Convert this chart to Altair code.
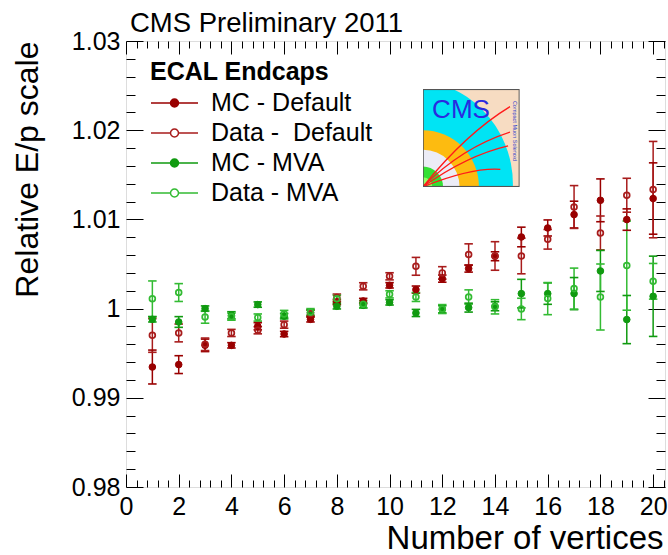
import urllib.parse
import altair as alt
import pandas as pd

FONT = "Liberation Sans"

# ---------------- data ----------------
nvtx = list(range(1, 21))

mc_default = [0.99345, 0.99372, 0.99588, 0.99588, 0.99802, 0.99715, 0.99880, 1.00074, 1.00085, 1.00261,
              1.00213, 1.00336, 1.00449, 1.00587, 1.00803, 1.00904, 1.01054, 1.01214, 1.00998, 1.01234]
mc_default_err = [0.0019, 0.0010, 0.0007, 0.0003, 0.0004, 0.0003, 0.0003, 0.0003, 0.0003, 0.0003,
                  0.0004, 0.0004, 0.0004, 0.0005, 0.0011, 0.0009, 0.0015, 0.0024, 0.0012, 0.0040]

data_default = [0.99700, 0.99727, 0.99600, 0.99727, 0.99757, 0.99820, 0.99944, 1.00123, 1.00250, 1.00362,
                1.00474, 1.00400, 1.00606, 1.00590, 1.00590, 1.00777, 1.01139, 1.00848, 1.01271, 1.01334]
data_default_err = [0.0019, 0.0010, 0.0007, 0.0004, 0.0004, 0.0004, 0.0004, 0.0004, 0.0004, 0.0004,
                    0.0010, 0.0007, 0.0012, 0.0016, 0.0020, 0.0011, 0.0024, 0.0019, 0.0019, 0.0054]

mc_mva = [0.99880, 0.99850, 1.00000, 0.99925, 1.00045, 0.99915, 0.99955, 1.00026, 1.00037, 1.00070,
          0.99951, 0.99992, 1.00011, 1.00026, 1.00168, 1.00168, 1.00168, 1.00422, 0.99877, 1.00138]
mc_mva_err = [0.0003, 0.0006, 0.0003, 0.0004, 0.0003, 0.0003, 0.0003, 0.0003, 0.0003, 0.0003,
              0.0004, 0.0004, 0.0005, 0.0005, 0.0016, 0.0012, 0.0018, 0.0023, 0.0027, 0.0045]

data_mva = [1.00110, 1.00180, 0.99906, 0.99910, 0.99900, 0.99940, 0.99960, 1.00110, 1.00050, 1.00160,
            1.00130, 0.99995, 1.00130, 1.00020, 0.99996, 1.00112, 1.00224, 1.00130, 1.00482, 1.00306]
data_mva_err = [0.0020, 0.0010, 0.0007, 0.0004, 0.0004, 0.0004, 0.0004, 0.0004, 0.0004, 0.0004,
                0.0005, 0.0005, 0.0008, 0.0008, 0.0012, 0.0018, 0.0023, 0.0037, 0.0050, 0.0020]

series_names = ["MC - Default", "Data - \u00a0Default", "MC - MVA", "Data - MVA"]
series_kind = ["MC", "Data", "MC", "Data"]
stroke_colors = ["#990000", "#a81c1c", "#109a10", "#33bb33"]
fill_colors = ["#990000", "transparent", "#109a10", "transparent"]

x_major = list(range(0, 21, 2))
x_minor = [round(i * 0.4, 1) for i in range(1, 52) if i % 5 != 0]
y_major = [0.98, 0.99, 1.00, 1.01, 1.02, 1.03]
y_minor = [round(0.98 + i * 0.002, 3) for i in range(1, 25) if i % 5 != 0]

header_text = ["CMS Preliminary 2011"]

rows = []
for name, kind, vals, errs in zip(series_names, series_kind,
                                  [mc_default, data_default, mc_mva, data_mva],
                                  [mc_default_err, data_default_err, mc_mva_err, data_mva_err]):
    for n, v, e in zip(nvtx, vals, errs):
        rows.append({"nvtx": n, "val": v, "lo": v - e, "hi": v + e, "series": name, "kind": kind})
df = pd.DataFrame(rows)

# ---------------- scales / axes / legend ----------------
x_scale = alt.Scale(domain=[0, 20.45], nice=False, zero=False)
y_scale = alt.Scale(domain=[0.98, 1.03], nice=False, zero=False)
stroke_scale = alt.Scale(domain=series_names, range=stroke_colors)
fill_scale = alt.Scale(domain=series_names, range=fill_colors)

LEG_PATH = ("M-1,0L-0.17,0M0.17,0L1,0M-0.17,0A0.17,0.17,0,1,1,0.17,0"
            "A0.17,0.17,0,1,1,-0.17,0Z")
legend = alt.Legend(
    title="ECAL Endcaps", orient="none", legendX=24, legendY=19,
    titleFont=FONT, titleFontSize=25, titleFontWeight="bold", titleColor="black",
    titlePadding=6, labelFont=FONT, labelFontSize=25, labelColor="black",
    labelLimit=400, labelOffset=12, symbolType=LEG_PATH, symbolSize=2209,
    symbolStrokeWidth=1.5, clipHeight=24, rowPadding=5, padding=0, symbolOffset=0,
)


def tick_axis(orient, values, size):
    return alt.Axis(orient=orient, values=values, tickSize=size, offset=-size,
                    labels=False, domain=False, grid=False, title=None, ticks=True,
                    tickColor="black", tickWidth=1)


x_main = alt.Axis(orient="bottom", values=x_major, ticks=False, domain=False, grid=False,
                  labelFont=FONT, labelFontSize=25, labelColor="black", labelPadding=7,
                  labelFlush=False, labelOverlap=False,
                  title="Number of vertices", titleFont=FONT, titleFontSize=33,
                  titleFontWeight="normal", titleColor="black", titleAnchor="end",
                  titleAlign="right", titleBaseline="alphabetic", titleX=537, titleY=61)
y_main = alt.Axis(orient="left", values=y_major, ticks=False, domain=False, grid=False,
                  labelFont=FONT, labelFontSize=25, labelColor="black", labelPadding=6,
                  labelFlush=False, labelOverlap=False,
                  labelExpr="abs(datum.value - 1) < 1e-9 ? '1' : format(datum.value, '.2f')",
                  title="Relative E/p scale", titleFont=FONT, titleFontSize=32,
                  titleFontWeight="normal", titleColor="black", titleAngle=270,
                  titleAlign="right", titleBaseline="alphabetic", titleX=-89, titleY=0)

base = alt.Chart(df)
stroke_enc = alt.Stroke("series:N", scale=stroke_scale, legend=legend)
fill_enc = alt.Fill("series:N", scale=fill_scale, legend=legend)

rules = base.mark_rule(strokeWidth=1.5).encode(
    x=alt.X("nvtx:Q", scale=x_scale, axis=x_main),
    y=alt.Y("lo:Q", scale=y_scale, axis=y_main),
    y2="hi:Q",
    stroke=stroke_enc,
)
caps_lo = base.mark_tick(orient="horizontal", filled=False, size=7, thickness=0.1,
                         strokeWidth=1.5, opacity=1).encode(
    x=alt.X("nvtx:Q", scale=x_scale, axis=tick_axis("bottom", x_major, 13)),
    y=alt.Y("lo:Q", scale=y_scale, axis=tick_axis("left", y_major, 17)),
    stroke=stroke_enc,
)
caps_hi = base.mark_tick(orient="horizontal", filled=False, size=7, thickness=0.1,
                         strokeWidth=1.5, opacity=1).encode(
    x=alt.X("nvtx:Q", scale=x_scale, axis=tick_axis("bottom", x_minor, 7)),
    y=alt.Y("hi:Q", scale=y_scale, axis=tick_axis("left", y_minor, 9)),
    stroke=stroke_enc,
)
mc_pts = base.transform_filter(alt.datum.kind == "MC").mark_point(
    shape="circle", size=44, strokeWidth=1, opacity=1).encode(
    x=alt.X("nvtx:Q", scale=x_scale, axis=tick_axis("top", x_major, 13)),
    y=alt.Y("val:Q", scale=y_scale, axis=tick_axis("right", y_major, 17)),
    stroke=stroke_enc, fill=fill_enc,
)
data_pts = base.transform_filter(alt.datum.kind == "Data").mark_point(
    shape="circle", size=34, strokeWidth=1.7, opacity=1).encode(
    x=alt.X("nvtx:Q", scale=x_scale, axis=tick_axis("top", x_minor, 7)),
    y=alt.Y("val:Q", scale=y_scale, axis=tick_axis("right", y_minor, 9)),
    stroke=stroke_enc, fill=fill_enc,
)

# ---------------- header text ----------------
header = alt.Chart(pd.DataFrame({"t": header_text})).mark_text(
    font=FONT, fontSize=27.5, color="black", align="left", baseline="alphabetic").encode(
    text="t:N", x=alt.value(4), y=alt.value(-9.5))

# ---------------- CMS logo (decoration) ----------------
logo_svg = (
    '<svg xmlns="http://www.w3.org/2000/svg" width="97" height="98" viewBox="0 0 100 100" '
    'preserveAspectRatio="none">'
    '<rect x="0" y="0" width="100" height="100" fill="#f7dcc2"/>'
    '<circle cx="-14" cy="97" r="107" fill="#00e4f4"/>'
    '<circle cx="0" cy="100" r="58" fill="#fdbb10"/>'
    '<circle cx="0" cy="100" r="38" fill="#ececf6"/>'
    '<circle cx="0" cy="100" r="21" fill="#33e033"/>'
    '<circle cx="0" cy="100" r="10" fill="#90ff60"/>'
    '<g fill="none" stroke="#ff1a1a" stroke-width="1.3">'
    '<path d="M0,100 Q45,45 90,18"/>'
    '<path d="M0,100 Q40,60 90,44"/>'
    '<path d="M0,100 Q45,68 88,58"/>'
    '<path d="M0,100 Q50,80 80,82"/>'
    '</g>'
    '<rect x="0.5" y="0.5" width="99" height="99" fill="none" stroke="#555" stroke-width="1.2"/>'
    '</svg>'
)
logo_url = "data:image/svg+xml;charset=utf-8," + urllib.parse.quote(logo_svg)

logo = alt.Chart(pd.DataFrame({"u": [logo_url]})).mark_image(
    width=97, height=98, align="left", baseline="top", aspect=False).encode(
    url=alt.Url("u:N"), x=alt.value(296.7), y=alt.value(48))
logo_txt = alt.Chart(pd.DataFrame({"t": ["CMS"]})).mark_text(
    font=FONT, fontSize=26, color="#2a2ae0", align="center", baseline="alphabetic").encode(
    text="t:N", x=alt.value(335), y=alt.value(77))
logo_sub = alt.Chart(pd.DataFrame({"t": ["Compact Muon Solenoid"]})).mark_text(
    font=FONT, fontSize=5.5, color="#3344cc", align="center", baseline="middle", angle=90).encode(
    text="t:N", x=alt.value(389), y=alt.value(90))

chart = alt.layer(
    header, logo, logo_txt, logo_sub, rules, caps_lo, caps_hi, mc_pts, data_pts
).resolve_axis(
    x="independent", y="independent"
).properties(
    width=539, height=446, autosize="none",
    padding={"left": 126, "top": 41, "right": 3, "bottom": 68},
).configure_view(
    stroke="black", strokeWidth=2
).configure(background="white")

chart.save("out.html", embed_options={"renderer": "svg", "actions": False})
